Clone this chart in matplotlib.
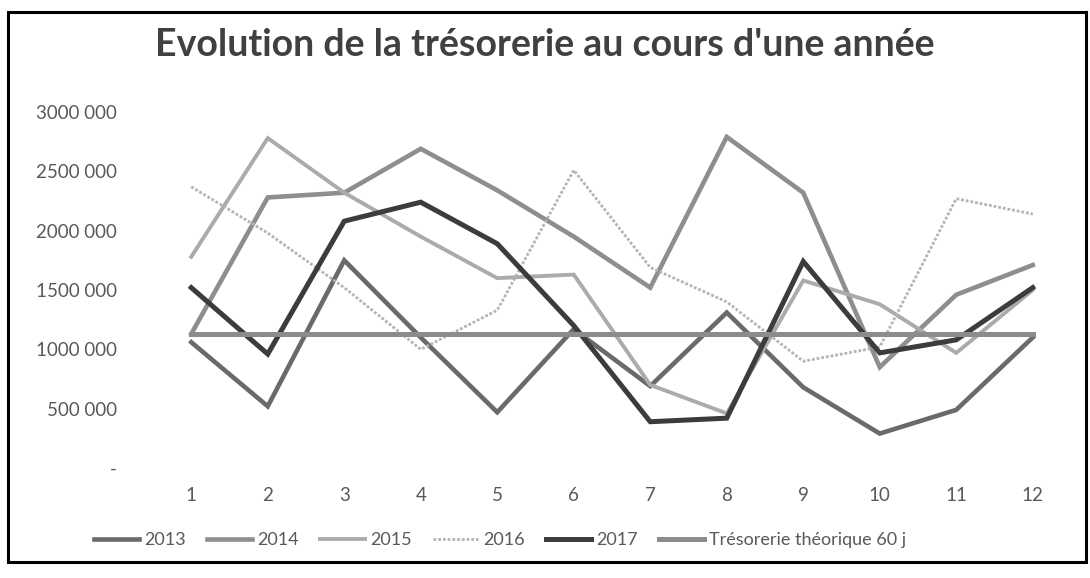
import matplotlib
matplotlib.use('Agg')
import matplotlib.pyplot as plt
from matplotlib.patches import Rectangle

plt.rcParams['font.family'] = ['Lato', 'DejaVu Sans']

# months and yearly cash position
months = list(range(1, 13))
y2013 = [1060000, 520000, 1750000, 1100000, 470000, 1170000, 690000, 1310000, 680000, 290000, 490000, 1100000]
y2014 = [1130000, 2280000, 2320000, 2690000, 2340000, 1950000, 1520000, 2790000, 2320000, 850000, 1460000, 1710000]
y2015 = [1780000, 2780000, 2320000, 1950000, 1600000, 1630000, 700000, 460000, 1580000, 1380000, 970000, 1500000]
y2016 = [2370000, 1980000, 1520000, 1000000, 1330000, 2510000, 1690000, 1400000, 900000, 1020000, 2270000, 2140000]
y2017 = [1520000, 960000, 2080000, 2240000, 1890000, 1200000, 390000, 420000, 1740000, 970000, 1080000, 1520000]
theorique = [1130000] * 12

ytick_vals = [0, 500000, 1000000, 1500000, 2000000, 2500000, 3000000]
ytick_labels = ['-', '500 000', '1000 000', '1500 000', '2000 000', '2500 000', '3000 000']

W, H = 1090, 578
fig = plt.figure(figsize=(W / 100, H / 100), dpi=100)
ax = fig.add_axes([153 / W, 1 - 468 / H, (1071 - 153) / W, (468 - 112) / H])

ax.plot(months, y2013, color='#6a6a6a', lw=3.3, label='2013', solid_joinstyle='miter')
ax.plot(months, y2014, color='#8e8e8e', lw=3.3, label='2014', solid_joinstyle='miter')
ax.plot(months, y2015, color='#ababab', lw=2.8, label='2015', solid_joinstyle='miter')
ax.plot(months, y2016, color='#b4b4b4', lw=2.0, ls=(0, (1, 0.7)), label='2016')
ax.plot(months, y2017, color='#3c3c3c', lw=3.6, label='2017', solid_joinstyle='miter')
ax.plot(months, theorique, color='#8c8c8c', lw=3.6, label='Trésorerie théorique 60 j')

ax.set_xlim(0.5, 12.5)
ax.set_ylim(0, 3000000)
ax.set_xticks(months)
ax.set_xticklabels([str(m) for m in months])
ax.set_yticks(ytick_vals)
ax.set_yticklabels(ytick_labels)
for s in ax.spines.values():
    s.set_visible(False)
ax.tick_params(axis='both', length=0, labelsize=13.5, labelcolor='#595959')
ax.tick_params(axis='x', pad=14)
ax.tick_params(axis='y', pad=26)

fig.text(0.5, 1 - 45 / H, "Evolution de la trésorerie au cours d'une année",
         ha='center', va='center', fontsize=27, fontweight='bold', color='#404040')

handles, labels = ax.get_legend_handles_labels()
fig.legend(handles, labels, loc='center', bbox_to_anchor=(500 / W, 1 - 540 / H), ncol=6,
           frameon=False, fontsize=13, labelcolor='#595959', handlelength=2.5,
           handletextpad=0.3, columnspacing=1.15)

fig.patches.append(Rectangle((8 / W, 1 - 562 / H), (1086 - 8) / W, (562 - 12) / H,
                             transform=fig.transFigure, fill=False, ec='black', lw=2.2))

fig.savefig('out.png', dpi=100)
